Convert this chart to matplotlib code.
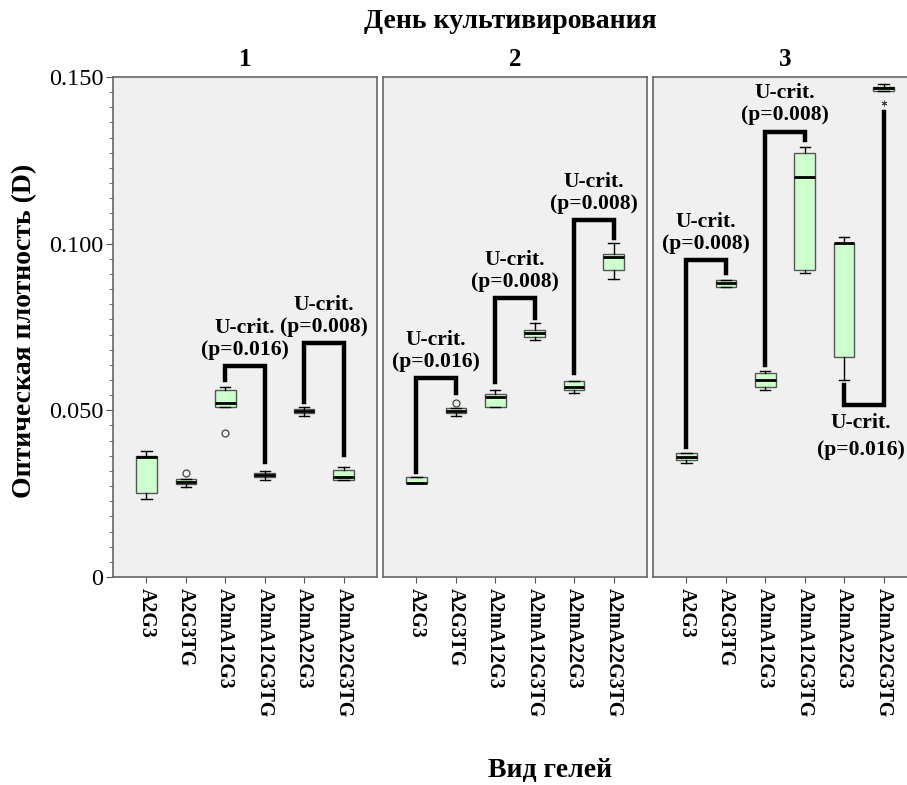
"""
Boxplots of optical density for gel types over three days of cultivation,
with Mann-Whitney U brackets
"""
import matplotlib
matplotlib.use('Agg')
import matplotlib.pyplot as plt
import numpy as np

# ---- data ------------------------------------------------------------------
groups = ['A2G3', 'A2G3TG', 'A2mA12G3', 'A2mA12G3TG', 'A2mA22G3', 'A2mA22G3TG']
days = ['1', '2', '3']

# rows = days, columns = groups
whis_lo = [[0.0233, 0.0271, 0.0511, 0.0291, 0.0483, 0.0291],
           [0.0281, 0.0483, 0.0511, 0.0711, 0.0551, 0.0893],
           [0.0341, 0.0871, 0.0561, 0.0913, 0.0591, 0.1459]]
q1 = [[0.0251, 0.0279, 0.0511, 0.0299, 0.0491, 0.0291],
      [0.0281, 0.0491, 0.0511, 0.0721, 0.0561, 0.0921],
      [0.0351, 0.0871, 0.0571, 0.0921, 0.0661, 0.1459]]
med = [[0.0360, 0.0285, 0.0521, 0.0306, 0.0499, 0.0301],
       [0.0283, 0.0499, 0.0541, 0.0733, 0.0571, 0.0959],
       [0.0361, 0.0881, 0.0591, 0.1201, 0.1001, 0.1466]]
q3 = [[0.0363, 0.0293, 0.0561, 0.0313, 0.0505, 0.0321],
      [0.0300, 0.0506, 0.0549, 0.0741, 0.0589, 0.0969],
      [0.0371, 0.0891, 0.0611, 0.1271, 0.1001, 0.1471]]
whis_hi = [[0.0379, 0.0295, 0.0571, 0.0319, 0.0511, 0.0331],
           [0.0300, 0.0506, 0.0561, 0.0761, 0.0589, 0.1001],
           [0.0371, 0.0891, 0.0619, 0.1289, 0.1021, 0.1479]]

# outliers (day index, group index, value) and extremes
outliers = [(0, 1, 0.0311), (0, 2, 0.0431), (1, 1, 0.0523)]
extremes = [(2, 5, 0.1423)]

# significance brackets: day, left group, right group,
# left end, bar level, right end, p-value
br_day = [0, 0, 1, 1, 1, 2, 2, 2]
br_left = [3, 5, 1, 3, 5, 1, 3, 5]
br_right = [4, 6, 2, 4, 6, 2, 4, 6]
br_y_left = [0.0591, 0.0525, 0.0316, 0.0586, 0.0611, 0.0391, 0.0636, 0.0576]
br_y_bar = [0.0633, 0.0701, 0.0596, 0.0836, 0.1071, 0.0951, 0.1336, 0.0516]
br_y_right = [0.0346, 0.0366, 0.0551, 0.0776, 0.1016, 0.0911, 0.1311, 0.1396]
br_p = ['0.016', '0.008', '0.016', '0.008', '0.008', '0.008', '0.008', '0.016']

# ---- plotting ----------------------------------------------------------------
plt.rcParams['font.family'] = ['Liberation Serif', 'DejaVu Serif']

W, H = 907, 785
fig = plt.figure(figsize=(W / 100, H / 100), dpi=100)

ax_left = [113, 383, 653]
ax_bottom, ax_top = 577, 77
ax_w = 264

box_face = '#ccffcc'
edge = '#555555'
x = np.arange(1, len(groups) + 1)

axes = []
for d in range(len(days)):
    ax = fig.add_axes([ax_left[d] / W, 1 - ax_bottom / H,
                       ax_w / W, (ax_bottom - ax_top) / H])
    axes.append(ax)
    ax.set_facecolor('#f0f0f0')

    stats = []
    for g in range(len(groups)):
        stats.append({'whislo': whis_lo[d][g], 'q1': q1[d][g], 'med': med[d][g],
                      'q3': q3[d][g], 'whishi': whis_hi[d][g], 'fliers': []})
    ax.bxp(stats, positions=x, widths=0.52, patch_artist=True, showfliers=False,
           boxprops=dict(facecolor=box_face, edgecolor=edge, linewidth=1.0),
           medianprops=dict(color='black', linewidth=2.0),
           whiskerprops=dict(color='black', linewidth=1.0),
           capprops=dict(color='black', linewidth=1.0))

    # outliers as open circles, extremes as stars
    for od, og, ov in outliers:
        if od == d:
            ax.plot(x[og], ov, 'o', ms=5, mfc='none', mec='#444444', mew=0.9)
    for ed, eg, ev in extremes:
        if ed == d:
            ax.plot(x[eg], ev, marker=(6, 2, 0), ms=4, color='#444444', mew=0.7)

    # U-test brackets
    for i in range(len(br_day)):
        if br_day[i] != d:
            continue
        xl, xr = x[br_left[i] - 1], x[br_right[i] - 1]
        yb = br_y_bar[i]
        ax.plot([xl, xl, xr, xr], [br_y_left[i], yb, yb, br_y_right[i]],
                color='black', lw=3.2, solid_joinstyle='miter', zorder=5)
        xc = (xl + xr) / 2
        if yb > br_y_left[i]:
            y1, y2 = yb + 0.0115, yb + 0.0049
        else:
            # label under the bar sits against the right edge
            xc -= 0.07
            y1, y2 = yb - 0.0055, yb - 0.0135
        ax.text(xc, y1, 'U-crit.', ha='center', va='center',
                fontsize=15.6, fontweight='bold')
        ax.text(xc, y2, '(p={})'.format(br_p[i]), ha='center', va='center',
                fontsize=15.6, fontweight='bold')

    ax.set_xlim(0.15, 6.85)
    ax.set_ylim(0, 0.15)
    ax.set_xticks(x)
    ax.set_xticklabels(groups, rotation=-90, fontsize=14.3, fontweight='bold')
    ax.tick_params(axis='x', length=4, color=edge, pad=4)
    for sp in ax.spines.values():
        sp.set_color('#666666')
        sp.set_linewidth(1.2)
    ax.set_title(days[d], fontsize=18, fontweight='bold', pad=8)

    if d == 0:
        ax.set_yticks([0, 0.05, 0.1, 0.15])
        ax.set_yticklabels(['0', '0.050', '0.100', '0.150'], fontsize=17.5)
        ax.set_yticks(np.linspace(0, 0.15, 34), minor=True)
        ax.tick_params(axis='y', which='major', length=5, color=edge, pad=2)
        ax.tick_params(axis='y', which='minor', length=3, color=edge)
    else:
        ax.set_yticks([])
# End days loop

fig.text(510 / W, 1 - 21 / H, 'День культивирования', ha='center', va='center',
         fontsize=20, fontweight='bold')
fig.text(550 / W, 1 - 771 / H, 'Вид гелей', ha='center', va='center',
         fontsize=20, fontweight='bold')
fig.text(25 / W, 1 - 331 / H, 'Оптическая плотность (D)', ha='center',
         va='center', rotation=90, fontsize=20, fontweight='bold')

fig.savefig('out.png', dpi=100)
